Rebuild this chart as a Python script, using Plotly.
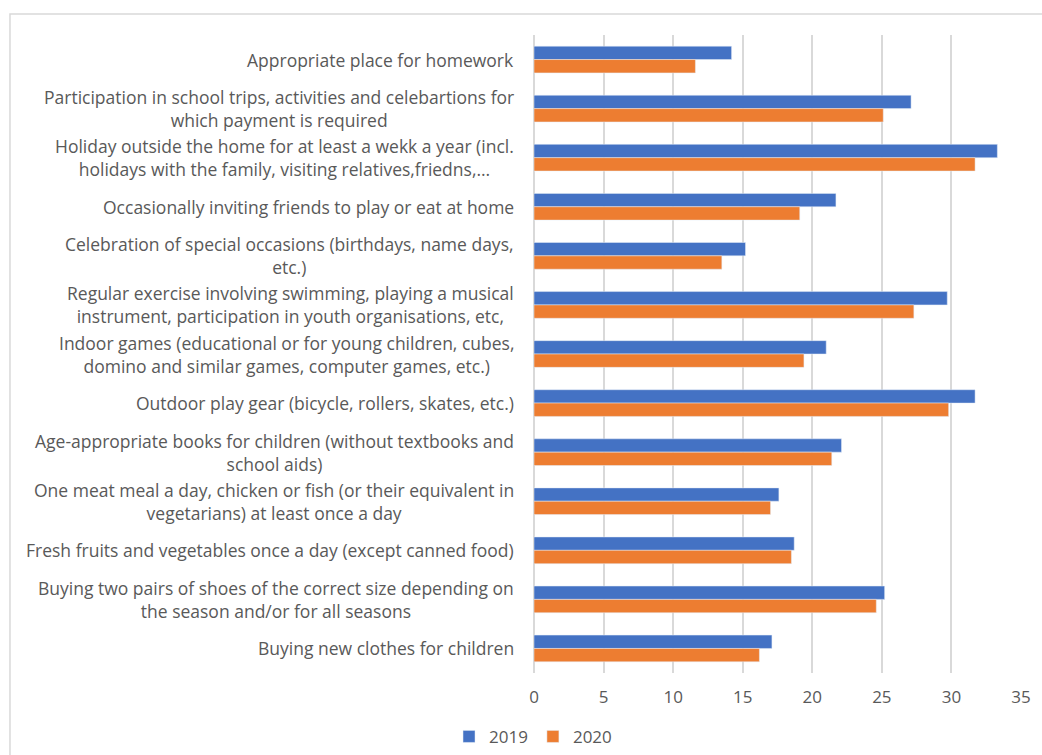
import plotly.graph_objects as go

# Items (top to bottom) and the share of children lacking each item, by year
categories = [
    "Appropriate place for homework",
    "Participation in school trips, activities and celebartions for<br>which payment is required",
    "Holiday outside the home for at least a wekk a year (incl.<br>holidays with the family, visiting relatives,friedns,…",
    "Occasionally inviting friends to play or eat at home",
    "Celebration of special occasions (birthdays, name days,<br>etc.)",
    "Regular exercise involving swimming, playing a musical<br>instrument, participation in youth organisations, etc,",
    "Indoor games (educational or for young children, cubes,<br>domino and similar games, computer games, etc.)",
    "Outdoor play gear (bicycle, rollers, skates, etc.)",
    "Age-appropriate books for children (without textbooks and<br>school aids)",
    "One meat meal a day, chicken or fish (or their equivalent in<br>vegetarians) at least once a day",
    "Fresh fruits and vegetables once a day (except canned food)",
    "Buying two pairs of shoes of the correct size depending on<br>the season and/or for all seasons",
    "Buying new clothes for children",
]
values_2019 = [14.2, 27.1, 33.3, 21.7, 15.2, 29.7, 21.0, 31.7, 22.1, 17.6, 18.7, 25.2, 17.1]
values_2020 = [11.6, 25.1, 31.7, 19.1, 13.5, 27.3, 19.4, 29.8, 21.4, 17.0, 18.5, 24.6, 16.2]
x_ticks = [0, 5, 10, 15, 20, 25, 30, 35]

BLUE = "#4472C4"
ORANGE = "#ED7D31"
TEXT = "#595959"
GRID = "#D9D9D9"
FONT = "Open Sans"

positions = list(range(len(categories)))

fig = go.Figure()
fig.add_trace(go.Bar(y=positions, x=values_2019, name="2019", orientation="h",
                     marker=dict(color=BLUE)))
fig.add_trace(go.Bar(y=positions, x=values_2020, name="2020", orientation="h",
                     marker=dict(color=ORANGE)))

# Category labels: right-anchored blocks with centred lines
annotations = []
for pos, label in zip(positions, categories):
    annotations.append(dict(
        x=0, xref="paper", xanchor="right", xshift=-18,
        y=pos, yref="y", yanchor="middle",
        text=label, showarrow=False, align="center",
        font=dict(family=FONT, size=17.5, color=TEXT),
    ))

fig.update_layout(
    width=1042, height=755,
    margin=dict(l=534, r=21, t=35, b=82, autoexpand=False),
    paper_bgcolor="white", plot_bgcolor="white",
    barmode="group", bargap=0.456, bargroupgap=0,
    font=dict(family=FONT, size=15, color=TEXT),
    showlegend=True,
    legend=dict(orientation="h", x=-0.002, xanchor="center",
                yref="container", y=0.024, yanchor="middle",
                font=dict(family=FONT, size=17, color=TEXT), traceorder="normal",
                itemwidth=30, tracegroupgap=0),
    annotations=annotations,
    shapes=[dict(type="rect", xref="paper", yref="paper",
                 x0=-1.076, x1=1.2, y0=-0.2, y1=1.033,
                 line=dict(color=GRID, width=1.5), fillcolor="rgba(0,0,0,0)", layer="below")],
)
fig.update_xaxes(range=[0, 35], tickvals=x_ticks, showgrid=True, gridcolor=GRID, gridwidth=1.5,
                 zeroline=True, zerolinecolor=GRID, zerolinewidth=1.5, showline=False,
                 ticks="", ticklabelstandoff=12, automargin=False,
                 tickfont=dict(family=FONT, size=17, color=TEXT), fixedrange=True)
fig.update_yaxes(range=[12.5, -0.5], showticklabels=False, showgrid=False, zeroline=False,
                 showline=False, ticks="", automargin=False)

fig.write_html("out.html")
